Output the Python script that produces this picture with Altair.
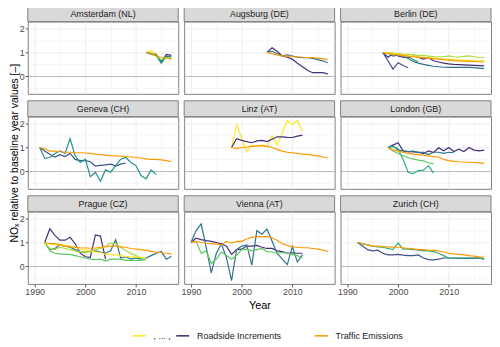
import altair as alt
import pandas as pd

FONT = "Liberation Sans"

CITIES = ["Amsterdam (NL)", "Augsburg (DE)", "Berlin (DE)",
          "Geneva (CH)", "Linz (AT)", "London (GB)",
          "Prague (CZ)", "Vienna (AT)", "Zurich (CH)"]

KEYS = ["v1", "v2", "v3", "v4", "v5", "v6", "v7", "v8", "TE"]
COLORS = ["#472c7a", "#3b528b", "#2c728e", "#21908d", "#27ad81",
          "#5dc863", "#aadc32", "#fde725", "#ff9900"]
LEGEND_KEYS = ["v8", "v1", "TE"]

X_TICKS = [1990, 1995, 2000, 2005, 2010, 2015]
Y_TICKS = [-0.5, 0, 0.5, 1, 1.5, 2]

# ---- series (relative to baseline year) ----
AMS_V8 = [1.0, 1.08, 0.95, 0.65, 0.85, 0.8]
AMS_V1 = [1.0, 0.95, 0.9, 0.6, 0.92, 0.88]
AMS_V4 = [1.0, 0.92, 0.88, 0.55, 0.85, 0.82]
AMS_V6 = [1.0, 0.98, 0.85, 0.68, 0.78, 0.75]
AMS_TE = [1.0, 0.95, 0.85, 0.8, 0.78, 0.72]

AUG_V1 = [1.0, 1.2, 1.05, 0.85, 0.8, 0.72, 0.55, 0.4, 0.25, 0.15, 0.15, 0.15, 0.1]
AUG_V3 = [1.0, 1.05, 0.95, 0.85, 0.9, 0.85, 0.8, 0.78, 0.78, 0.75, 0.7, 0.65, 0.57]
AUG_TE = [1.0, 0.95, 0.9, 0.85, 0.85, 0.83, 0.82, 0.8, 0.79, 0.78, 0.76, 0.74, 0.7]

BER_V1 = [1.0, 0.8, 0.95, 0.85, 0.8, 0.78, 0.85, 0.8, 0.72, 0.78, 0.65, 0.6, 0.55,
          0.52, 0.5, 0.49, 0.48, 0.47, 0.46, 0.45, 0.44]
BER_V2 = [1.0, 0.65, 0.3, 0.57, 0.45, 0.36]
BER_V3 = [1.0, 1.0, 0.85, 0.9, 0.85, 0.75, 0.62, 0.55, 0.5, 0.46, 0.42, 0.4, 0.38,
          0.37, 0.37, 0.37, 0.38, 0.37, 0.36, 0.34, 0.32]
BER_V5 = [1.0, 1.0, 0.9, 0.95, 0.9, 0.85, 0.7, 0.6]
BER_V7 = [1.0, 1.0, 0.98, 0.95, 0.92, 0.92, 0.9, 0.87, 0.88, 0.85, 0.83, 0.82, 0.82,
          0.86, 0.82, 0.8, 0.84, 0.86, 0.82, 0.8, 0.79]
BER_V8 = [1.0, 0.98, 0.95, 0.92, 0.9, 0.87, 0.84, 0.82, 0.8, 0.78, 0.76, 0.74, 0.72,
          0.71, 0.7, 0.69, 0.68, 0.67, 0.66, 0.65, 0.65]
BER_TE = [1.0, 0.95, 0.92, 0.9, 0.87, 0.84, 0.82, 0.8, 0.78, 0.76, 0.74, 0.72, 0.7,
          0.68, 0.66, 0.65, 0.64, 0.63, 0.62, 0.61, 0.6]

GEN_V2 = [1.0, 0.85, 0.72, 0.6, 0.7, 0.62, 0.75, 0.5, 0.45, 0.45, 0.4, 0.22, 0.25,
          0.27, 0.3, 0.22, 0.3, 0.35]
GEN_V4 = [1.0, 0.54, 0.58, 0.75, 0.86, 0.75, 1.37, 0.65, 0.37, 0.51, -0.23, -0.04,
          -0.42, 0.06, -0.04, 0.24, 0.51, 0.58, 0.37, 0.24, -0.18, -0.32, 0.06, -0.14]
GEN_TE = [1.0, 0.95, 0.85, 0.85, 0.82, 0.8, 0.8, 0.78, 0.78, 0.77, 0.75, 0.72, 0.7,
          0.68, 0.66, 0.65, 0.64, 0.62, 0.6, 0.58, 0.56, 0.52, 0.5, 0.5, 0.48, 0.45, 0.4]

LNZ_V8 = [1.0, 1.95, 1.4, 0.82, 1.1, 1.05, 1.1, 1.05, 1.5, 1.1, 1.6, 2.14, 1.97, 2.14, 1.68]
LNZ_V1 = [1.0, 1.37, 1.3, 1.25, 1.2, 1.28, 1.3, 1.25, 1.35, 1.45, 1.45, 1.43, 1.42, 1.48, 1.52]
LNZ_TE = [1.0, 0.95, 1.0, 1.02, 1.05, 1.07, 1.08, 1.05, 1.0, 0.92, 0.85, 0.8, 0.78,
          0.75, 0.72, 0.7, 0.68, 0.65, 0.6, 0.56]

LON_V1 = [1.0, 1.1, 1.2, 0.86, 0.83, 0.82, 0.8, 0.74, 0.86, 0.79, 0.99, 0.86, 1.0,
          0.83, 0.93, 0.83, 1.0, 0.89, 0.86, 0.89]
LON_V3 = [1.0, 1.05, 0.9, 0.85, 0.83, 0.85, 0.8, 0.8, 0.7, 0.8, 0.8, 0.75, 0.8, 0.78]
LON_V5 = [1.0, 1.05, 0.95, 0.5, -0.05, -0.1, 0.03, 0.05, 0.24, -0.08]
LON_V6 = [1.0, 0.85, 0.75, 0.65, 0.57, 0.51, 0.47, 0.44, 0.36, 0.31]
LON_TE = [1.0, 0.9, 0.85, 0.8, 0.75, 0.72, 0.7, 0.68, 0.65, 0.62, 0.6, 0.5, 0.45,
          0.42, 0.4, 0.39, 0.38, 0.37, 0.35, 0.33]

PRG_V1 = [1.0, 1.58, 1.3, 1.1, 1.1, 1.22, 0.95, 0.55, 0.4, 0.38, 1.32, 1.27, 0.3]
PRG_V3 = [1.0, 0.7, 0.75, 0.9, 0.85, 0.8, 0.7, 0.6, 0.6, 0.65, 0.65, 0.6, 0.55, 0.65,
          1.12, 0.35, 0.4, 0.3, 0.35, 0.3, 0.35, 0.45, 0.55, 0.62, 0.3, 0.42]
PRG_V6 = [1.0, 0.65, 0.55, 0.52, 0.5, 0.5, 0.45, 0.4, 0.35, 0.3, 0.28, 0.3, 0.22,
          0.3, 0.3, 0.3, 0.25, 0.25, 0.25, 0.25, 0.28]
PRG_V7 = [1.0, 0.75, 0.7, 0.8, 0.75, 0.7, 0.65, 0.6, 0.62, 0.6, 0.7, 0.75, 0.85,
          0.98, 0.95, 0.8, 0.65, 0.55, 0.45, 0.35, 0.3]
PRG_V8 = [1.0, 0.95, 0.9, 0.9, 0.88, 0.85, 0.8, 0.72, 0.68, 0.65, 0.6, 0.58, 0.5,
          0.5, 0.48, 0.45, 0.42, 0.4, 0.4, 0.38, 0.35]
PRG_TE = [1.0, 0.95, 0.95, 0.9, 0.85, 0.82, 0.8, 0.78, 0.77, 0.76, 0.77, 0.8, 0.82,
          0.85, 0.85, 0.82, 0.8, 0.75, 0.72, 0.7, 0.67, 0.63, 0.6, 0.57, 0.55, 0.52]

VIE_V1 = [1.0, 1.18, 1.12, 1.08, 1.05, 1.0, 0.95, 0.85, 0.5, 0.7, 0.72, 0.85, 0.85,
          0.88, 0.8, 0.75, 0.75, 0.65, 0.62, 0.55, 0.57, 0.55, 0.55]
VIE_V3 = [1.0, 1.5, 1.78, 0.8, -0.28, 0.55, 0.95, 0.35, -0.6, 0.7, 0.85, 0.9, 0.05,
          1.5, 1.35, 1.57, 1.05, 0.55, 0.3, 0.07, 0.83, 0.18, 0.48]
VIE_V6 = [1.0, 1.05, 0.55, 0.65, 0.12, 0.3, 0.6, 0.45, 0.3, 0.45, 0.7, 0.72, 0.65,
          0.7, 0.75, 0.62, 0.6, 0.55, 0.58, 0.55, 0.5, 0.45, 0.35]
VIE_TE = [1.0, 1.05, 1.0, 0.97, 0.95, 0.93, 0.9, 1.05, 0.97, 1.05, 1.05, 1.15, 1.22,
          1.25, 1.25, 1.25, 1.2, 1.1, 0.95, 0.88, 0.82, 0.8, 0.78, 0.78, 0.75, 0.72,
          0.68, 0.63]

ZUR_V2 = [1.0, 0.85, 0.7, 0.65, 0.68, 0.55, 0.48, 0.48, 0.5, 0.47, 0.45, 0.45, 0.48,
          0.35, 0.28, 0.27, 0.3, 0.35, 0.35, 0.35, 0.33, 0.33, 0.33, 0.33, 0.35, 0.3]
ZUR_V5 = [1.0, 0.95, 0.9, 0.85, 0.82, 0.8, 0.75, 0.7, 0.98, 0.72, 0.72, 0.7, 0.68,
          0.65, 0.65, 0.62, 0.55, 0.45, 0.35, 0.33, 0.35, 0.35, 0.35, 0.35, 0.35, 0.3]
ZUR_TE = [1.0, 0.95, 0.9, 0.85, 0.85, 0.83, 0.82, 0.8, 0.8, 0.78, 0.75, 0.73, 0.7,
          0.7, 0.68, 0.67, 0.65, 0.6, 0.55, 0.52, 0.5, 0.48, 0.45, 0.43, 0.4, 0.38]

# (city, colour key, first year, values)
SERIES = [
    ("Amsterdam (NL)", "v8", 2012, AMS_V8), ("Amsterdam (NL)", "v1", 2012, AMS_V1),
    ("Amsterdam (NL)", "v4", 2012, AMS_V4), ("Amsterdam (NL)", "v6", 2012, AMS_V6),
    ("Amsterdam (NL)", "TE", 2012, AMS_TE),
    ("Augsburg (DE)", "v1", 2005, AUG_V1), ("Augsburg (DE)", "v3", 2005, AUG_V3),
    ("Augsburg (DE)", "TE", 2005, AUG_TE),
    ("Berlin (DE)", "v1", 1997, BER_V1), ("Berlin (DE)", "v2", 1997, BER_V2),
    ("Berlin (DE)", "v3", 1997, BER_V3), ("Berlin (DE)", "v5", 1997, BER_V5),
    ("Berlin (DE)", "v7", 1997, BER_V7), ("Berlin (DE)", "v8", 1997, BER_V8),
    ("Berlin (DE)", "TE", 1997, BER_TE),
    ("Geneva (CH)", "v2", 1991, GEN_V2), ("Geneva (CH)", "v4", 1991, GEN_V4),
    ("Geneva (CH)", "TE", 1991, GEN_TE),
    ("Linz (AT)", "v8", 1998, LNZ_V8), ("Linz (AT)", "v1", 1998, LNZ_V1),
    ("Linz (AT)", "TE", 1998, LNZ_TE),
    ("London (GB)", "v1", 1998, LON_V1), ("London (GB)", "v3", 1998, LON_V3),
    ("London (GB)", "v5", 1998, LON_V5), ("London (GB)", "v6", 1998, LON_V6),
    ("London (GB)", "TE", 1998, LON_TE),
    ("Prague (CZ)", "v1", 1992, PRG_V1), ("Prague (CZ)", "v3", 1992, PRG_V3),
    ("Prague (CZ)", "v6", 1992, PRG_V6), ("Prague (CZ)", "v7", 1992, PRG_V7),
    ("Prague (CZ)", "v8", 1992, PRG_V8), ("Prague (CZ)", "TE", 1992, PRG_TE),
    ("Vienna (AT)", "v1", 1990, VIE_V1), ("Vienna (AT)", "v3", 1990, VIE_V3),
    ("Vienna (AT)", "v6", 1990, VIE_V6), ("Vienna (AT)", "TE", 1990, VIE_TE),
    ("Zurich (CH)", "v2", 1992, ZUR_V2), ("Zurich (CH)", "v5", 1992, ZUR_V5),
    ("Zurich (CH)", "TE", 1992, ZUR_TE),
]

rows = []
for city, key, start, vals in SERIES:
    for i, v in enumerate(vals):
        rows.append({"city": city, "key": key, "year": start + i, "value": v})
df = pd.DataFrame(rows)

W, H, SH = 152, 73, 16
GRID_MINOR = 0.45
GRID_MAJOR = 0.9
XDOM = [1988.65, 2018.35]
YDOM = [-0.74, 2.3]

PAD = "\u2800" * 4  # blank braille cells: invisible trailing gap after the 2nd legend label
color_scale = alt.Scale(domain=KEYS, range=COLORS)
legend = alt.Legend(
    values=LEGEND_KEYS,
    labelExpr="datum.value === 'v8' ? ', ... ,' : datum.value === 'v1' ? 'Roadside Increments" + PAD + "' : 'Traffic Emissions'",
    orient="none", legendX=105, legendY=310, direction="horizontal", title=None,
    symbolType="stroke", symbolStrokeWidth=1.6, symbolSize=169,
    labelFontSize=9, labelFont=FONT, labelColor="#1a1a1a", columnPadding=1, labelOffset=7,
    gridAlign="none",
)


def panel(city, r, c):
    sub = df[df.city == city]
    bottom = r == 2
    left = c == 0
    xaxis = alt.Axis(
        values=X_TICKS, format="d", labelOverlap=False,
        labelExpr="datum.value % 10 === 0 ? datum.label : ''",
        labels=bottom, ticks=bottom, domain=False,
        tickOpacity={"condition": {"test": "datum.value % 10 === 0", "value": 1}, "value": 0},
        gridWidth={"condition": {"test": "datum.value % 10 === 0", "value": GRID_MAJOR}, "value": GRID_MINOR},
        title="Year" if (bottom and c == 1) else None,
        titlePadding=3, labelPadding=1,
    )
    yaxis = alt.Axis(
        values=Y_TICKS, labelOverlap=False,
        labelExpr="datum.value === 0 || datum.value === 1 || datum.value === 2 ? format(datum.value, 'd') : ''",
        labels=left, ticks=left, domain=False, tickSize=2.5,
        tickOpacity={"condition": {"test": "datum.value % 1 === 0", "value": 1}, "value": 0},
        gridWidth={"condition": {"test": "datum.value % 1 === 0", "value": GRID_MAJOR}, "value": GRID_MINOR},
        gridColor={"condition": {"test": "datum.value === 0", "value": "#b3b3b3"}, "value": "#ebebeb"},
        title="NOₓ relative to baseline year values [–]" if (left and r == 1) else None,
        titlePadding=0, labelPadding=1, titleFontSize=10.5,
    )
    xs = alt.X("year:Q", scale=alt.Scale(domain=XDOM, nice=False, zero=False), axis=xaxis)
    ys = alt.Y("value:Q", scale=alt.Scale(domain=YDOM, nice=False, zero=False), axis=yaxis)

    lines = alt.Chart(sub).mark_line(strokeWidth=1.2).encode(
        x=xs, y=ys,
        color=alt.Color("key:N", scale=color_scale, legend=legend),
        order=alt.Order("year:Q"),
    )
    strip_df = pd.DataFrame({"t": [city]})
    strip_bg = alt.Chart(strip_df).mark_rect(fill="#d9d9d9", stroke="#808080", strokeWidth=1).encode(
        x=alt.value(0), x2=alt.value(W), y=alt.value(-SH), y2=alt.value(0)
    )
    strip_tx = alt.Chart(strip_df).mark_text(font=FONT, fontSize=9, color="#1a1a1a", baseline="middle").encode(
        x=alt.value(W / 2), y=alt.value(-SH / 2 + 0.5), text="t:N"
    )
    return alt.layer(lines, strip_bg, strip_tx).properties(width=W, height=H)


cells = []
for r in range(3):
    for c in range(3):
        cells.append(panel(CITIES[r * 3 + c], r, c))

chart = alt.concat(*cells, columns=3, spacing={"row": SH + 7, "column": 6}, bounds="flush").properties(
    padding={"left": 0, "top": -5, "right": 0, "bottom": 0}
).configure_view(
    stroke="#808080", strokeWidth=1
).configure_axis(
    labelFont=FONT, titleFont=FONT, labelFontSize=9, labelColor="#4d4d4d",
    tickColor="#4d4d4d", tickSize=3, gridColor="#ebebeb",
    titleFontSize=11, titleFontWeight="normal", titleColor="#000000",
).configure_legend(
    labelFont=FONT
)

chart.save("out.html", embed_options={"renderer": "svg", "actions": False})
